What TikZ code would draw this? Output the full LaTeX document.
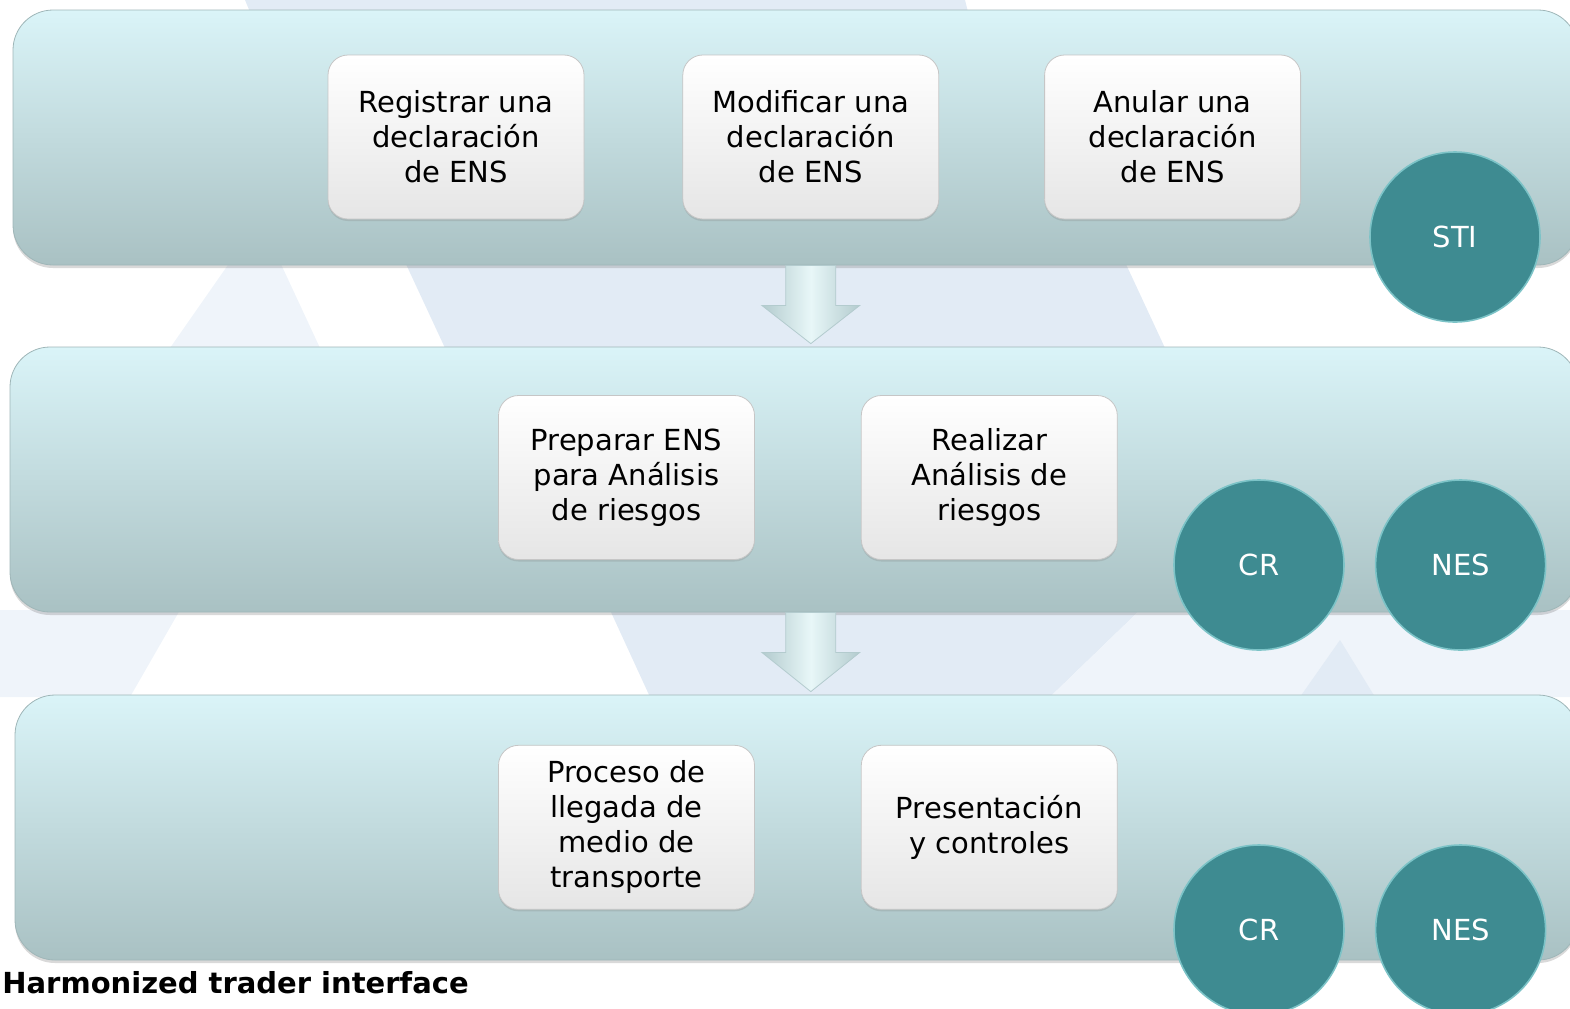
\documentclass[tikz,border=0pt]{standalone}
\usepackage{fontspec}
\setmainfont{DejaVu Sans}
\usetikzlibrary{positioning,calc,shadows}
\definecolor{bandtop}{HTML}{DAF4F8}
\definecolor{bandbottom}{HTML}{A9C1C3}
\definecolor{bandline}{HTML}{9FB6B8}
\definecolor{badgeteal}{HTML}{3E8B91}
\definecolor{badgerim}{HTML}{7CC3C7}
\definecolor{markblue}{HTML}{E2EBF5}
\definecolor{markpale}{HTML}{EFF4FA}
\definecolor{arrowedge}{HTML}{B3CBCE}
\definecolor{arrowmid}{HTML}{E8F7F8}

\begin{document}
\begin{tikzpicture}[
        x=0.5pt, y=-0.5pt,
        band/.style={rectangle, rounded corners=20pt, draw=bandline,
            top color=bandtop, bottom color=bandbottom,
            drop shadow={shadow xshift=0pt, shadow yshift=-1.5pt, opacity=0.3}},
        stepbox/.style={rectangle, rounded corners=10pt, draw=gray!45,
            top color=white, bottom color=gray!20, text=black,
            minimum width=128pt, minimum height=82pt, inner sep=2pt,
            align=center, font=\fontsize{14.5pt}{17.5pt}\selectfont,
            drop shadow={shadow xshift=0pt, shadow yshift=-1pt, opacity=0.25}},
        badge/.style={circle, fill=badgeteal, draw=badgerim, line width=0.8pt,
            minimum size=85pt, text=white, font=\fontsize{14.5pt}{17.5pt}\selectfont},
        bigarrow/.style={draw=arrowedge, left color=arrowedge, right color=arrowedge,
            middle color=arrowmid}
    ]
        \useasboundingbox (0,0) rectangle (1570,1008);
        \clip (0,0) rectangle (1570,1008);

        % faint watermark behind the bands
        \fill[markblue] (245,0) -- (965,0) -- (968,12) -- (250,12) -- cycle;
        \fill[markpale] (230,262) -- (280,262) -- (320,348) -- (170,348) -- cycle;
        \fill[markblue] (405,262) -- (1125,262) -- (1165,348) -- (445,348) -- cycle;
        \fill[markpale] (0,610) -- (180,610) -- (130,697) -- (0,697) -- cycle;
        \fill[markblue] (610,610) -- (1140,610) -- (1050,697) -- (650,697) -- cycle;
        \fill[markpale] (1140,610) -- (1570,610) -- (1570,697) -- (1050,697) -- cycle;
        \fill[markblue] (1340,640) -- (1375,697) -- (1300,697) -- cycle;

        % bands
        \node[band, minimum width=782.5pt, minimum height=127.5pt] (band1) at (795.5,137.5) {};
        \node[band, minimum width=784pt, minimum height=132.5pt] (band2) at (794,479.5) {};
        \node[band, minimum width=781.5pt, minimum height=132.5pt] (band3) at (796.5,827.5) {};

        % steps
        \node[stepbox] (reg) at (456,137) {Registrar una\\declaración\\de ENS};
        \node[stepbox, right=49pt of reg] (mod) {Modificar una\\declaración\\de ENS};
        \node[stepbox, right=52.5pt of mod] (anu) {Anular una\\declaración\\de ENS};
        \node[stepbox] (prep) at (626.5,477.5) {Preparar ENS\\para Análisis\\de riesgos};
        \node[stepbox, right=53pt of prep] (real) {Realizar\\Análisis de\\riesgos};
        \node[stepbox, below=92.5pt of prep] (proc) {Proceso de\\llegada de\\medio de\\transporte};
        \node[stepbox, right=53pt of proc] (pres) {Presentación\\y controles};

        % arrows between bands
        \foreach \u/\v in {band1/band2, band2/band3} {
            \coordinate (from) at (mod |- \u.south);
            \coordinate (to) at (mod |- \v.north);
            \draw[bigarrow] ($(from)+(-25,0)$) -- ($(from)+(-25,40)$) -- ($(from)+(-49,40)$)
                -- ($(to)+(0,-3)$) -- ($(from)+(49,40)$) -- ($(from)+(25,40)$)
                -- ($(from)+(25,0)$) -- cycle;
        }

        % systems
        \node[badge] (sti) at (1455,237) {STI};
        \node[badge] (cr1) at (1259,565) {CR};
        \node[badge, right=15pt of cr1] (nes1) {NES};
        \node[badge] (cr2) at (1259,930) {CR};
        \node[badge, right=15pt of cr2] (nes2) {NES};

        \node[anchor=base west, inner sep=0pt, font=\bfseries\fontsize{14.5pt}{17.5pt}\selectfont]
            (caption) at (2,993) {Harmonized trader interface};
    \end{tikzpicture}
\end{document}
